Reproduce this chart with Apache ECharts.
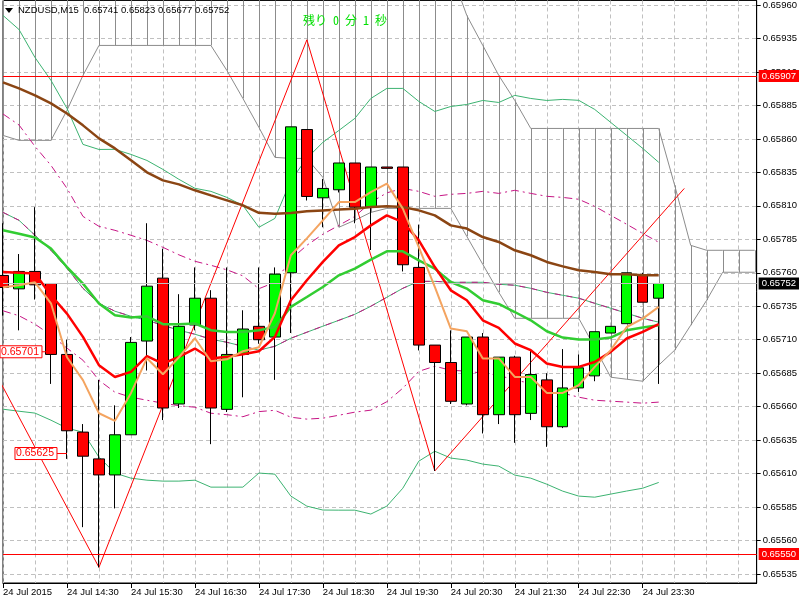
<!DOCTYPE html>
<html><head><meta charset="utf-8">
<script src="https://cdn.jsdelivr.net/npm/echarts@6/dist/echarts.min.js"></script>
<style>html,body{margin:0;padding:0;background:#fff}#c{width:800px;height:600px}</style>
</head><body><div id="c"></div>
<script>
// ---- data ----
const tickIdx = [0,4,8,12,16,20,24,28,32,36,40];
const tickLabels = ['24 Jul 2015','24 Jul 14:30','24 Jul 15:30','24 Jul 16:30','24 Jul 17:30','24 Jul 18:30','24 Jul 19:30','24 Jul 20:30','24 Jul 21:30','24 Jul 22:30','24 Jul 23:30'];
const priceTicks = [0.65960,0.65935,0.65910,0.65885,0.65860,0.65835,0.65810,0.65785,0.65760,0.65735,0.65710,0.65685,0.65660,0.65635,0.65610,0.65585,0.65560,0.65535];

const open  = [0.65758,0.65748,0.65761,0.65752,0.65699,0.65641,0.65621,0.65609,0.65639,0.65709,0.65756,0.65662,0.65721,0.65741,0.65658,0.65699,0.65720,0.65712,0.65760,0.65867,0.65816,0.65822,0.65842,0.65809,0.65839,0.65839,0.65764,0.65706,0.65693,0.65662,0.65712,0.65654,0.65697,0.65655,0.65680,0.65645,0.65674,0.65683,0.65715,0.65722,0.65758,0.65741];
const high  = [0.65797,0.65774,0.65809,0.65752,0.65710,0.65647,0.65680,0.65661,0.65712,0.65797,0.65778,0.65744,0.65764,0.65747,0.65764,0.65732,0.65764,0.65764,0.65869,0.65867,0.65830,0.65842,0.65842,0.65839,0.65839,0.65839,0.65796,0.65706,0.65717,0.65712,0.65715,0.65697,0.65698,0.65702,0.65685,0.65703,0.65699,0.65716,0.65720,0.65760,0.65760,0.65752];
const low   = [0.65728,0.65717,0.65740,0.65677,0.65621,0.65570,0.65540,0.65584,0.65639,0.65687,0.65650,0.65659,0.65717,0.65632,0.65656,0.65667,0.65707,0.65680,0.65715,0.65814,0.65794,0.65820,0.65797,0.65777,0.65838,0.65761,0.65702,0.65612,0.65662,0.65661,0.65640,0.65647,0.65633,0.65650,0.65630,0.65644,0.65671,0.65679,0.65715,0.65722,0.65738,0.65677];
const close = [0.65749,0.65761,0.65751,0.65699,0.65642,0.65623,0.65609,0.65639,0.65708,0.65750,0.65659,0.65720,0.65741,0.65659,0.65699,0.65718,0.65710,0.65759,0.65869,0.65817,0.65823,0.65842,0.65809,0.65839,0.65838,0.65766,0.65706,0.65693,0.65664,0.65712,0.65654,0.65697,0.65654,0.65684,0.65645,0.65674,0.65689,0.65716,0.65720,0.65760,0.65738,0.65752];

const maFast  = [0.657492,0.657507,0.657529,0.657372,0.656969,0.656798,0.656551,0.656494,0.656701,0.656962,0.656842,0.656969,0.657111,0.656939,0.656954,0.657014,0.657044,0.657298,0.657731,0.657857,0.657992,0.658128,0.658128,0.658203,0.658266,0.658079,0.657792,0.657494,0.657183,0.657163,0.656960,0.656960,0.656822,0.656822,0.656703,0.656703,0.656760,0.656897,0.657022,0.657195,0.657258,0.657345];
const maMid   = [0.657606,0.657601,0.657594,0.657432,0.657295,0.657121,0.656910,0.656822,0.656860,0.656977,0.656922,0.656972,0.657034,0.656960,0.656972,0.656992,0.657014,0.657121,0.657395,0.657544,0.657681,0.657805,0.657867,0.657954,0.658029,0.657979,0.657842,0.657643,0.657469,0.657395,0.657245,0.657189,0.657072,0.657022,0.656922,0.656897,0.656897,0.656934,0.657009,0.657109,0.657158,0.657216];
const maSlow  = [0.657917,0.657892,0.657863,0.657781,0.657643,0.657519,0.657370,0.657283,0.657266,0.657275,0.657216,0.657216,0.657221,0.657171,0.657158,0.657158,0.657171,0.657195,0.657345,0.657419,0.657494,0.657581,0.657631,0.657698,0.657760,0.657760,0.657693,0.657631,0.657531,0.657482,0.657395,0.657367,0.657307,0.657245,0.657163,0.657116,0.657101,0.657101,0.657116,0.657171,0.657191,0.657208];
const maLong  = [0.659022,0.658977,0.658925,0.658865,0.658790,0.658701,0.658604,0.658529,0.658440,0.658350,0.658290,0.658260,0.658216,0.658178,0.658141,0.658104,0.658048,0.658040,0.658046,0.658059,0.658066,0.658072,0.658079,0.658091,0.658096,0.658091,0.658066,0.658029,0.657954,0.657930,0.657867,0.657830,0.657768,0.657731,0.657681,0.657648,0.657619,0.657606,0.657589,0.657589,0.657581,0.657581];

// Bollinger-style envelope: middle, +/-1 (dash-dot magenta), +/-2 (thin green)
const bbMid  = [0.658051,0.657992,0.657880,0.657768,0.657634,0.657484,0.657372,0.657313,0.657275,0.657245,0.657208,0.657171,0.657141,0.657104,0.657081,0.657051,0.657022,0.657051,0.657111,0.657156,0.657201,0.657245,0.657290,0.657350,0.657417,0.657484,0.657536,0.657536,0.657529,0.657529,0.657529,0.657514,0.657507,0.657484,0.657454,0.657432,0.657410,0.657372,0.657335,0.657298,0.657260,0.657231];
const bbUp1  = [0.658786,0.658704,0.658544,0.658402,0.658231,0.658021,0.657947,0.657917,0.657880,0.657842,0.657790,0.657734,0.657686,0.657656,0.657622,0.657577,0.657481,0.657529,0.657701,0.657805,0.657888,0.657954,0.658021,0.658126,0.658197,0.658230,0.658208,0.658171,0.658186,0.658193,0.658208,0.658193,0.658216,0.658193,0.658171,0.658163,0.658149,0.658096,0.658029,0.657962,0.657894,0.657828];
const bbLow1 = [0.657316,0.657279,0.657216,0.657134,0.657037,0.656947,0.656797,0.656708,0.656671,0.656648,0.656626,0.656607,0.656596,0.656551,0.656540,0.656525,0.656563,0.656573,0.656521,0.656507,0.656514,0.656536,0.656559,0.656574,0.656637,0.656738,0.656864,0.656902,0.656872,0.656865,0.656850,0.656835,0.656798,0.656775,0.656738,0.656701,0.656671,0.656648,0.656641,0.656634,0.656626,0.656634];
const bbUp2  = [0.659522,0.659417,0.659208,0.659037,0.658828,0.658559,0.658521,0.658522,0.658484,0.658439,0.658372,0.658298,0.658231,0.658208,0.658163,0.658103,0.657940,0.658006,0.658290,0.658455,0.658574,0.658663,0.658753,0.658902,0.658977,0.658977,0.658880,0.658805,0.658842,0.658857,0.658887,0.658872,0.658925,0.658902,0.658887,0.658895,0.658888,0.658820,0.658723,0.658626,0.658529,0.658425];
const bbLow2 = [0.656581,0.656566,0.656552,0.656499,0.656440,0.656409,0.656223,0.656104,0.656066,0.656051,0.656044,0.656044,0.656051,0.655999,0.655999,0.655999,0.656104,0.656096,0.655932,0.655857,0.655828,0.655827,0.655827,0.655798,0.655857,0.655991,0.656193,0.656267,0.656216,0.656201,0.656171,0.656156,0.656089,0.656066,0.656021,0.655969,0.655932,0.655924,0.655947,0.655970,0.655991,0.656034];

// Ichimoku cloud (shifted forward, indices 0..47)
const kumoA = [0.658626,0.658589,0.658589,0.658589,0.658813,0.659074,0.659298,0.659298,0.659298,0.659298,0.659298,0.659298,0.659298,0.659298,0.659111,0.658902,0.658686,0.658462,0.658454,0.658454,0.658313,0.657940,0.657992,0.658051,0.658081,0.658081,0.658081,0.658081,0.658081,0.657872,0.657663,0.657454,0.657260,0.657260,0.657260,0.657260,0.657260,0.657044,0.656820,0.656805,0.656790,0.656910,0.657022,0.657208,0.657395,0.657604,0.657604,0.657604];
const kumoB = [0.65985,0.65985,0.65985,0.65985,0.65985,0.65985,0.65985,0.65985,0.65985,0.65985,0.65985,0.65985,0.65985,0.65985,0.65985,0.65985,0.65985,0.65985,0.65985,0.65985,0.65985,0.65985,0.65985,0.65985,0.65985,0.65985,0.65985,0.65985,0.65985,0.659522,0.659298,0.659074,0.658887,0.658678,0.658678,0.658678,0.658678,0.658678,0.658678,0.658678,0.658678,0.658678,0.658253,0.657805,0.657768,0.657768,0.657768,0.657768];

const zigIdx   = [-1, 6, 19, 27, 42.6];
const zigPrice = [0.65697, 0.65540, 0.65934, 0.65612, 0.65823];

const levelRed   = [0.65907, 0.65550];
const bidPrice   = 0.65752;
const noteIdx    = [2.75, 4];
const notePrice  = [0.65701, 0.65625];
const noteLead   = [5, 10];
const headerText = 'NZDUSD,M15  0.65741 0.65823 0.65677 0.65752';
const countdown  = '残り 0 分 1 秒';

// ---- chart ----
const FONT = '"Liberation Sans", Arial, sans-serif';
const Y_MIN = 0.655283, Y_MAX = 0.659634, X_MAX = 47.125;
const chart = echarts.init(document.getElementById('c'), null, {renderer: 'canvas'});
const pts = arr => arr.map((v, i) => [i, v]);
const lineSeries = (arr, color, width, z, type) => ({
  type: 'line', data: pts(arr), showSymbol: false, symbol: 'none', silent: true, clip: true,
  lineStyle: {color: color, width: width, type: type || 'solid'}, z: z, animation: false
});
const grayLine = '#c0c0c0';
const kumoColor = '#8c8c8c';
const magenta = '#c71585';
const tag = (v, bg) => ({show: true, position: 'end', distance: 2, formatter: v.toFixed(5), color: '#fff', backgroundColor: bg,
  padding: [1, 3, 1, 3], fontSize: 9.5, fontFamily: FONT});

const option = {
  animation: false,
  backgroundColor: '#ffffff',
  grid: {left: 3, right: 43, top: 0, bottom: 17, show: true, borderColor: '#000', borderWidth: 1, backgroundColor: 'transparent'},
  xAxis: [
    {type: 'value', min: 0, max: X_MAX, interval: 2,
     axisLine: {show: true, onZero: false, lineStyle: {color: '#000', width: 1}},
     axisTick: {show: false}, axisLabel: {show: false},
     splitLine: {show: true, lineStyle: {color: grayLine, type: [4, 3], width: 1}}},
    {type: 'value', min: 0, max: X_MAX, position: 'bottom',
     axisLine: {show: false, onZero: false},
     axisTick: {show: true, customValues: tickIdx, length: 5, lineStyle: {color: '#000'}},
     axisLabel: {show: true, customValues: tickIdx, formatter: v => tickLabels[tickIdx.indexOf(v)] || '',
                 align: 'left', fontSize: 9.5, color: '#000', margin: 4, fontFamily: FONT},
     splitLine: {show: false}}
  ],
  yAxis: {type: 'value', position: 'right', min: Y_MIN, max: Y_MAX, scale: true,
    axisLine: {show: true, onZero: false, lineStyle: {color: '#000'}},
    axisTick: {show: true, customValues: priceTicks, length: 4, lineStyle: {color: '#000'}},
    axisLabel: {show: true, customValues: priceTicks, formatter: v => v.toFixed(5), fontSize: 9.5, color: '#000', margin: 6, fontFamily: FONT},
    splitLine: {show: true, lineStyle: {color: grayLine, type: [4, 3], width: 1}}},
  graphic: [
    {type: 'polygon', shape: {points: [[5, 8], [13, 8], [9, 13]]}, style: {fill: '#000'}, z: 20},
    {type: 'text', x: 18, y: 10, style: {text: headerText, font: '9.5px ' + FONT, fill: '#000', verticalAlign: 'middle'}, z: 20},
    {type: 'text', x: 303, y: 20, style: {text: countdown, font: '12px "Noto Sans Mono CJK JP", "Noto Sans CJK JP", sans-serif', fill: '#00e000', verticalAlign: 'middle'}, z: 20}
  ],
  series: [
    // cloud hatch
    {type: 'custom', z: 1, silent: true, clip: true,
     data: kumoA.map((a, i) => [i, a, kumoB[i]]),
     renderItem: (params, api) => {
       const p1 = api.coord([api.value(0), api.value(1)]);
       const p2 = api.coord([api.value(0), api.value(2)]);
       const x = Math.round(p1[0]) + 0.5;
       return {type: 'line', shape: {x1: x, y1: p1[1], x2: x, y2: p2[1]}, style: {stroke: kumoColor, lineWidth: 1}};
     }},
    lineSeries(kumoA, kumoColor, 1, 1),
    lineSeries(kumoB, kumoColor, 1, 1),
    lineSeries(bbUp2, '#3cb371', 1, 2),
    lineSeries(bbLow2, '#3cb371', 1, 2),
    lineSeries(bbUp1, magenta, 1, 2, [8, 4, 2, 4]),
    lineSeries(bbLow1, magenta, 1, 2, [8, 4, 2, 4]),
    lineSeries(bbMid, '#3cb371', 1, 2),
    lineSeries(bbMid, magenta, 1, 2, [6, 6]),
    {type: 'line', data: zigIdx.map((x, i) => [x, zigPrice[i]]), showSymbol: false, symbol: 'none', silent: true,
     lineStyle: {color: '#ff0000', width: 1}, z: 2, clip: true},
    {type: 'candlestick', data: open.map((o, i) => [i, o, close[i], low[i], high[i]]),
     encode: {x: 0, y: [1, 2, 3, 4]}, barWidth: 11, clip: true, z: 3,
     itemStyle: {color: '#00ff00', color0: '#ff0000', borderColor: '#000', borderColor0: '#000', borderWidth: 1},
     markLine: {symbol: 'none', silent: true, animation: false, precision: 5,
       data: [
         {yAxis: levelRed[0], lineStyle: {color: '#ff0000', width: 1, type: 'solid'}, label: tag(levelRed[0], '#ff0000')},
         {yAxis: levelRed[1], lineStyle: {color: '#ff0000', width: 1, type: 'solid'}, label: tag(levelRed[1], '#ff0000')},
         {yAxis: bidPrice, lineStyle: {color: '#c0c0c0', width: 1, type: 'solid'}, label: tag(bidPrice, '#000')}
       ]}},
    lineSeries(maLong, '#8b4513', 2.5, 4),
    lineSeries(maSlow, '#32cd32', 2.5, 4),
    lineSeries(maMid, '#ff0000', 2.5, 5),
    lineSeries(maFast, '#f4a460', 2, 5),
    {type: 'custom', z: 10, clip: false, silent: true,
     data: noteIdx.map((x, i) => [x, notePrice[i]]),
     renderItem: (params, api) => {
       const i = params.dataIndex;
       const p = api.coord([api.value(0), api.value(1)]);
       const x1 = p[0] - noteLead[i], w = 42, h = 12;
       return {type: 'group', children: [
         {type: 'line', shape: {x1: x1, y1: p[1], x2: p[0], y2: p[1]}, style: {stroke: '#ff0000', lineWidth: 1}},
         {type: 'rect', shape: {x: x1 - w, y: p[1] - h / 2, width: w, height: h}, style: {fill: '#fff', stroke: '#ff0000', lineWidth: 1}},
         {type: 'text', style: {x: x1 - 3, y: p[1], text: notePrice[i].toFixed(5), fill: '#ff0000', font: '10.5px ' + FONT, align: 'right', verticalAlign: 'middle'}}
       ]};
     }}
  ]
};
chart.setOption(option);
</script></body></html>
